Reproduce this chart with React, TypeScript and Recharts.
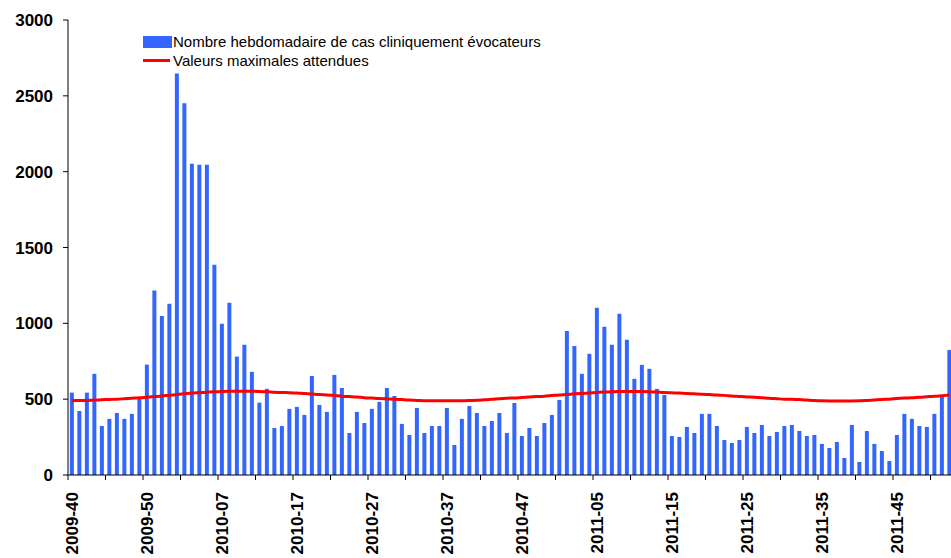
import { ComposedChart, Bar, Line, XAxis, YAxis } from 'recharts'

// ISO weeks 2009-40 .. 2011-52 (2009 has 53 weeks)
function weekLabels(): string[] {
  const out: string[] = []
  for (let w = 40; w <= 53; w++) out.push(`2009-${String(w).padStart(2, '0')}`)
  for (let w = 1; w <= 52; w++) out.push(`2010-${String(w).padStart(2, '0')}`)
  for (let w = 1; w <= 52; w++) out.push(`2011-${String(w).padStart(2, '0')}`)
  return out
}
const weeks = weekLabels()

const cases = [
  543, 422, 543, 667, 323, 370, 409, 370, 403, 508,
  728, 1217, 1049, 1129, 2647, 2451, 2053, 2046, 2046, 1386,
  997, 1135, 781, 858, 680, 477, 568, 310, 323, 436,
  449, 396, 653, 462, 416, 660, 574, 277, 416, 343,
  436, 482, 574, 521, 337, 264, 442, 277, 323, 323,
  442, 198, 370, 455, 409, 323, 356, 409, 277, 475,
  257, 310, 257, 343, 396, 495, 950, 851, 667, 799,
  1102, 977, 858, 1063, 891, 634, 726, 700, 568, 528,
  257, 251, 317, 277, 403, 403, 323, 231, 211, 231,
  317, 277, 330, 257, 284, 323, 330, 290, 257, 264,
  205, 178, 218, 112, 330, 86, 290, 205, 158, 92,
  264, 403, 370, 323, 317, 403, 521, 825,
]

const expectedMax = [
  490, 491, 492, 494, 496, 498, 500, 503, 506, 509,
  513, 517, 521, 526, 530, 535, 540, 543, 546, 549,
  551, 552, 552, 552, 552, 551, 549, 546, 544, 543,
  541, 537, 534, 530, 528, 525, 520, 517, 514, 510,
  507, 504, 502, 500, 497, 494, 492, 490, 489, 489,
  489, 489, 490, 491, 493, 496, 499, 503, 506, 508,
  511, 514, 517, 520, 524, 528, 531, 535, 538, 541,
  544, 547, 549, 550, 550, 550, 550, 549, 547, 544,
  542, 540, 537, 535, 533, 530, 527, 525, 521, 518,
  515, 513, 510, 506, 503, 500, 499, 497, 494, 491,
  489, 488, 488, 488, 488, 489, 492, 495, 498, 500,
  504, 507, 509, 513, 516, 519, 523, 527,
]

const yTicks = [0, 500, 1000, 1500, 2000, 2500, 3000]

const data = weeks.map((week, i) => ({ week, cases: cases[i], expectedMax: expectedMax[i] }))

const FONT = '"Liberation Sans", Arial, sans-serif'
const BLUE = '#3366FF'
const RED = '#FF0000'
const CHART_W = 960
const CHART_H = 558
const Y_AXIS_W = 68
const MARGIN_RIGHT = 7
const BAND = (CHART_W - Y_AXIS_W - MARGIN_RIGHT) / weeks.length

function WeekTick(props: any) {
  const { x, y, payload, index } = props
  const i = index ?? payload?.index ?? 0
  if (i % 5 !== 0) return null
  const tx = x - BAND / 2
  return (
    <g>
      <line x1={tx} x2={tx} y1={y} y2={y + 5} stroke="#000" strokeWidth={1} />
      {i % 10 === 0 && (
        <text
          x={x + 6}
          y={y + 17}
          transform={`rotate(-90, ${x + 6}, ${y + 17})`}
          textAnchor="end"
          fontFamily={FONT}
          fontSize={17}
          fontWeight="bold"
          fill="#000"
        >
          {payload.value}
        </text>
      )}
    </g>
  )
}

function ChartLegend() {
  return (
    <div style={{ position: 'absolute', left: 143, top: 32, fontFamily: FONT, fontSize: 15, lineHeight: '19px', color: '#000', whiteSpace: 'nowrap' }}>
      <div style={{ display: 'flex', alignItems: 'center' }}>
        <span style={{ display: 'inline-block', width: 29, height: 12, background: BLUE, marginRight: 1 }} />
        <span>Nombre hebdomadaire de cas cliniquement évocateurs</span>
      </div>
      <div style={{ display: 'flex', alignItems: 'center' }}>
        <span style={{ display: 'inline-block', width: 27, height: 3, background: RED, marginRight: 3 }} />
        <span>Valeurs maximales attendues</span>
      </div>
    </div>
  )
}

export default function App() {
  return (
    <div style={{ position: 'absolute', left: 0, top: 0, width: 951, height: 558, overflow: 'hidden', background: '#fff', fontFamily: FONT }}>
      <ComposedChart
        width={CHART_W}
        height={CHART_H}
        data={data}
        margin={{ top: 20, right: MARGIN_RIGHT, left: 0, bottom: 0 }}
        barCategoryGap="25%"
      >
        <XAxis
          dataKey="week"
          interval={0}
          height={83}
          tickSize={0}
          tickMargin={0}
          tickLine={false}
          axisLine={{ stroke: '#000' }}
          tick={<WeekTick />}
        />
        <YAxis
          width={Y_AXIS_W}
          domain={[0, 3000]}
          ticks={yTicks}
          interval={0}
          tickSize={5}
          tickMargin={10}
          axisLine={{ stroke: '#000' }}
          tickLine={{ stroke: '#000' }}
          tick={{ fontFamily: FONT, fontSize: 17, fontWeight: 'bold', fill: '#000' }}
        />
        <Bar dataKey="cases" fill={BLUE} isAnimationActive={false} />
        <Line
          dataKey="expectedMax"
          type="monotone"
          stroke={RED}
          strokeWidth={3}
          dot={false}
          activeDot={false}
          isAnimationActive={false}
        />
      </ComposedChart>
      <ChartLegend />
    </div>
  )
}
